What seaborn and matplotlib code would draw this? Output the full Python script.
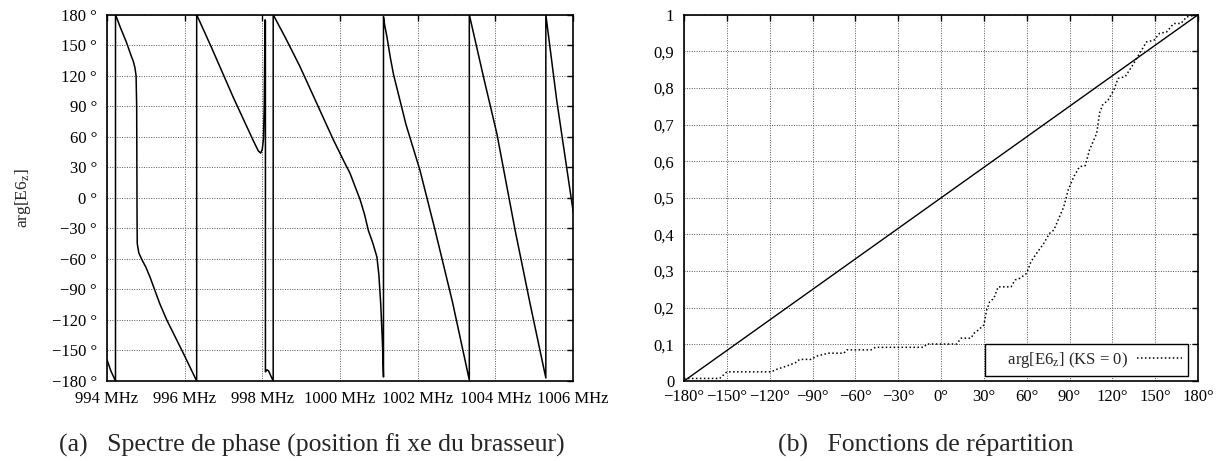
import numpy as np
import pandas as pd
import matplotlib
matplotlib.use("Agg")
import matplotlib.pyplot as plt
import seaborn as sns

# ---------------- data ----------------
# (a) phase spectrum (MHz, degrees) – traced polyline incl. wrap jumps
freq_mhz = [994.00, 994.10, 994.22,
            994.22, 994.35, 994.50, 994.62, 994.68, 994.72, 994.75, 994.765, 994.775,
            994.78, 994.82, 994.89, 995.00, 995.11, 995.36, 995.54, 995.97, 996.31,
            996.31, 996.70, 997.25, 997.77, 997.90, 997.96, 998.00, 998.03, 998.05,
            998.07, 998.08, 998.08, 998.12, 998.16, 998.22, 998.28,
            998.28, 998.60, 998.97, 999.40, 999.83, 1000.10, 1000.26, 1000.40, 1000.52,
            1000.63, 1000.73, 1000.85, 1000.95, 1001.00, 1001.05, 1001.09, 1001.12,
            1001.12, 1001.15, 1001.21, 1001.30, 1001.38, 1001.70, 1002.06, 1002.45,
            1002.90, 1003.33,
            1003.33, 1003.70, 1004.04, 1004.51, 1004.90, 1005.30,
            1005.30, 1005.58, 1006.01]
phase_deg = [-159, -170, -180,
             180, 167, 153, 140, 134, 128, 120, 90, -20,
             -45, -54, -60, -68, -78, -104, -120, -153, -180,
             180, 147, 99, 56, 46, 44, 48, 58, 91,
             175, 174, -171, -169, -170, -175, -180,
             180, 157, 129, 93, 57, 36, 24, 10, -2,
             -16, -32, -45, -58, -75, -105, -140, -176,
             178, 170, 158, 137, 121, 72, 27, -32,
             -103, -179,
             180, 118, 63, -32, -105, -177,
             180, 96, -15]

# (b) distribution functions
ecdf_angle = [-180, -155, -150, -119, -115, -108, -102, -99, -91, -87, -79, -68, -66,
              -49, -46, -12, -10, 11, 14, 21, 23, 26, 30, 32, 34, 37, 40, 49, 52,
              55, 60, 63, 67, 72, 76, 79, 86, 89, 93, 97, 101, 104, 109, 111, 113,
              117, 121, 124, 129, 135, 139, 144, 149, 153, 158, 163, 168, 172, 179]
ecdf_value = [0.007, 0.007, 0.025, 0.025, 0.032, 0.041, 0.050, 0.059, 0.059, 0.068,
              0.076, 0.076, 0.085, 0.085, 0.092, 0.092, 0.101, 0.101, 0.117, 0.117,
              0.130, 0.139, 0.153, 0.194, 0.216, 0.226, 0.257, 0.257, 0.276, 0.280,
              0.294, 0.326, 0.349, 0.376, 0.403, 0.412, 0.476, 0.521, 0.558, 0.585,
              0.588, 0.631, 0.676, 0.731, 0.753, 0.767, 0.794, 0.826, 0.831, 0.867,
              0.894, 0.926, 0.930, 0.949, 0.953, 0.976, 0.976, 0.994, 1.000]
uniform_angle = [-180, 180]
uniform_value = [0.0, 1.0]

left_xticks = [994, 996, 998, 1000, 1002, 1004, 1006]
left_xticklabels = ["994 MHz", "996 MHz", "998 MHz", "1000 MHz", "1002 MHz", "1004 MHz", "1006 MHz"]
left_yticks = [180, 150, 120, 90, 60, 30, 0, -30, -60, -90, -120, -150, -180]
left_yticklabels = ["180 °", "150 °", "120 °", "90 °", "60 °", "30 °", "0 °", "−30 °",
                    "−60 °", "−90 °", "−120 °", "−150 °", "−180 °"]
right_xticks = [-180, -150, -120, -90, -60, -30, 0, 30, 60, 90, 120, 150, 180]
right_xticklabels = ["−180°", "−150°", "−120°", "−90°", "−60°", "−30°", "0°", "30°",
                     "60°", "90°", "120°", "150°", "180°"]
right_yticks = [0, 0.1, 0.2, 0.3, 0.4, 0.5, 0.6, 0.7, 0.8, 0.9, 1.0]
right_yticklabels = ["0", "0,1", "0,2", "0,3", "0,4", "0,5", "0,6", "0,7", "0,8", "0,9", "1"]

caption_a = "(a)   Spectre de phase (position fi xe du brasseur)"
caption_b = "(b)   Fonctions de répartition"
ylabel_a = r"arg[E6$_\mathrm{z}$]"
legend_b = r"    arg[E6$_\mathrm{z}$] (KS = 0)"

# ---------------- style ----------------
sns.set_style("white")
plt.rcParams["font.family"] = ["Liberation Serif", "DejaVu Serif"]
plt.rcParams["mathtext.fontset"] = "custom"
plt.rcParams["mathtext.rm"] = "Liberation Serif"
plt.rcParams["mathtext.it"] = "Liberation Serif:italic"

fig = plt.figure(figsize=(12.21, 4.61), dpi=100)
axA = fig.add_axes([0.0876, 0.1735, 0.3817, 0.7946])
axB = fig.add_axes([0.5602, 0.1735, 0.4210, 0.7946])

TICK_FS = 12


def style_axes(ax):
    ax.grid(True, linestyle=(0, (1, 1.5)), color="#555555", linewidth=0.7)
    ax.set_axisbelow(True)
    for s in ax.spines.values():
        s.set_visible(True)
        s.set_color("black")
        s.set_linewidth(1.2)
    ax.tick_params(direction="in", length=4, width=1.0, top=True, right=True,
                   labelsize=TICK_FS, pad=7, colors="black")


# (a)
dfa = pd.DataFrame({"f": freq_mhz, "p": phase_deg})
sns.lineplot(data=dfa, x="f", y="p", sort=False, estimator=None, color="black",
             linewidth=1.1, ax=axA)
axA.set_xlim(994, 1006)
axA.set_ylim(-180, 180)
axA.set_xticks(left_xticks)
axA.set_xticklabels(left_xticklabels)
axA.set_yticks(left_yticks)
axA.set_yticklabels(left_yticklabels)
axA.set_xlabel("")
axA.set_ylabel(ylabel_a, fontsize=12.5)
axA.yaxis.set_label_coords(-0.159, 0.5)
style_axes(axA)

# (b)
dfu = pd.DataFrame({"a": uniform_angle, "v": uniform_value})
dfe = pd.DataFrame({"a": ecdf_angle, "v": ecdf_value})
sns.lineplot(data=dfu, x="a", y="v", sort=False, estimator=None, color="black",
             linewidth=1.0, ax=axB)
sns.lineplot(data=dfe, x="a", y="v", sort=False, estimator=None, color="black",
             linewidth=1.1, linestyle=(0, (1, 1.6)), ax=axB, label=legend_b)
axB.set_xlim(-180, 180)
axB.set_ylim(0, 1)
axB.set_xticks(right_xticks)
axB.set_xticklabels(right_xticklabels)
axB.set_yticks(right_yticks)
axB.set_yticklabels(right_yticklabels)
axB.set_xlabel("")
axB.set_ylabel("")
style_axes(axB)
axB.tick_params(axis="x", pad=6)
leg = axB.legend(loc="lower right", bbox_to_anchor=(0.981, 0.0145), borderaxespad=0,
                 frameon=True, fancybox=False, framealpha=1, edgecolor="black",
                 markerfirst=False, fontsize=12, handlelength=2.7,
                 borderpad=0.35, handletextpad=0.6)
leg.get_frame().set_linewidth(1.0)

fig.text(312 / 1221, 9 / 461, caption_a, ha="center", va="baseline", fontsize=18.5)
fig.text(926 / 1221, 9 / 461, caption_b, ha="center", va="baseline", fontsize=18.5)

fig.savefig("out.png", dpi=100)
